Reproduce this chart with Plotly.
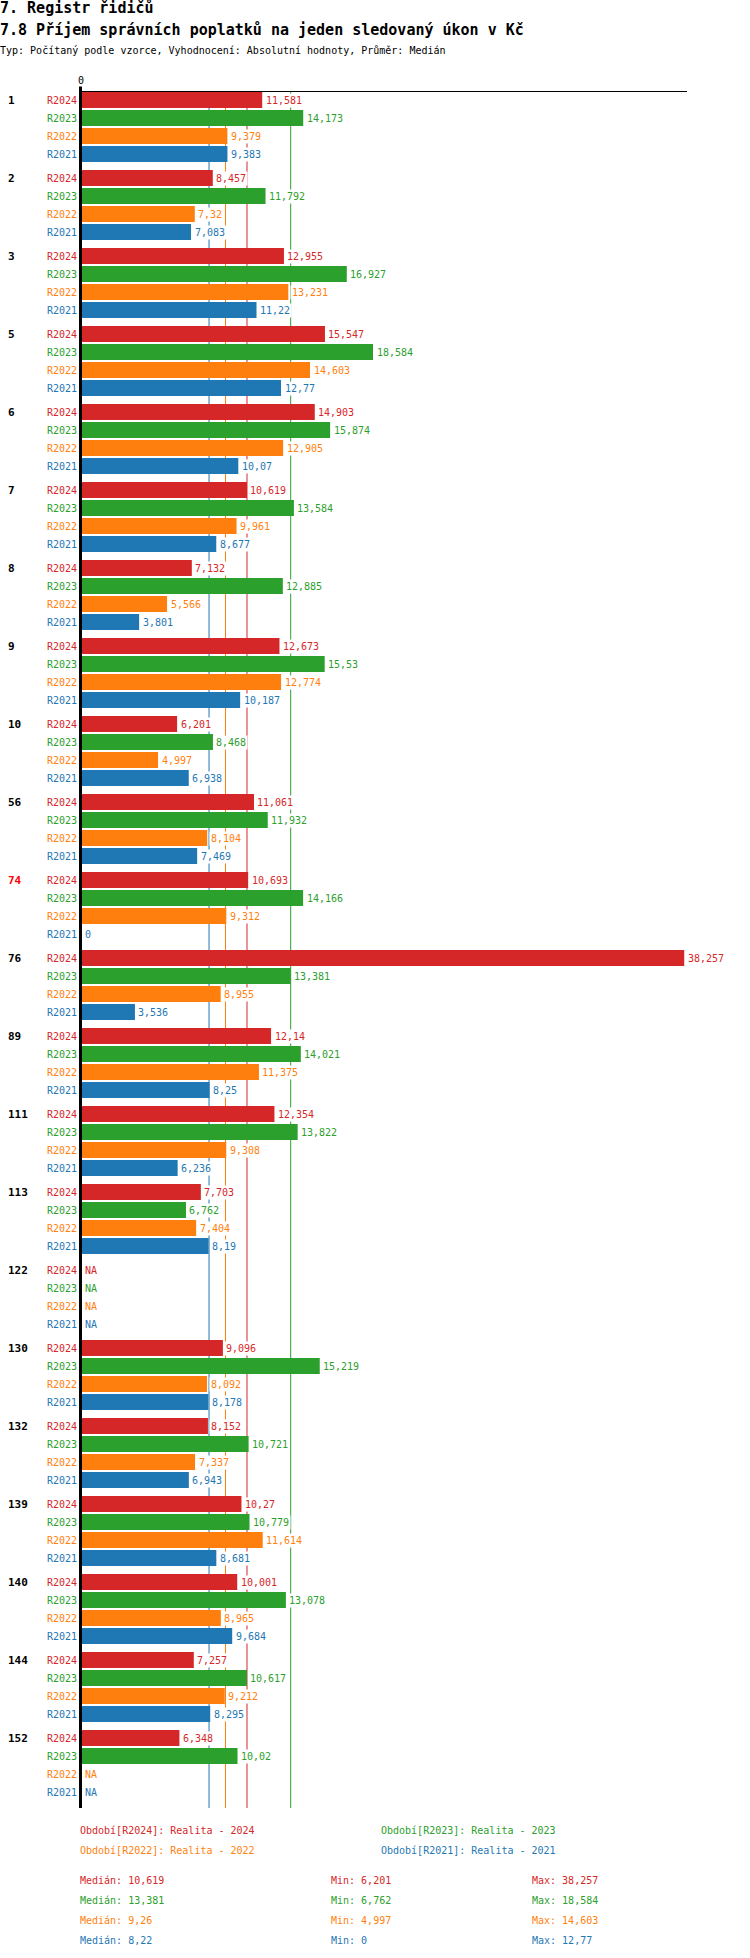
import plotly.graph_objects as go
import numpy as np

# --- data ---------------------------------------------------------------
urady = ["1", "2", "3", "5", "6", "7", "8", "9", "10", "56", "74", "76",
         "89", "111", "113", "122", "130", "132", "139", "140", "144", "152"]
zvyrazneny = "74"

obdobi = ["R2024", "R2023", "R2022", "R2021"]
popisy = ["Realita - 2024", "Realita - 2023", "Realita - 2022", "Realita - 2021"]
barvy = ["#d62728", "#2ca02c", "#ff7f0e", "#1f77b4"]

r2024 = [11.581, 8.457, 12.955, 15.547, 14.903, 10.619, 7.132, 12.673, 6.201, 11.061, 10.693,
         38.257, 12.14, 12.354, 7.703, None, 9.096, 8.152, 10.27, 10.001, 7.257, 6.348]
r2023 = [14.173, 11.792, 16.927, 18.584, 15.874, 13.584, 12.885, 15.53, 8.468, 11.932, 14.166,
         13.381, 14.021, 13.822, 6.762, None, 15.219, 10.721, 10.779, 13.078, 10.617, 10.02]
r2022 = [9.379, 7.32, 13.231, 14.603, 12.905, 9.961, 5.566, 12.774, 4.997, 8.104, 9.312,
         8.955, 11.375, 9.308, 7.404, None, 8.092, 7.337, 11.614, 8.965, 9.212, None]
r2021 = [9.383, 7.083, 11.22, 12.77, 10.07, 8.677, 3.801, 10.187, 6.938, 7.469, 0,
         3.536, 8.25, 6.236, 8.19, None, 8.178, 6.943, 8.681, 9.684, 8.295, None]
serie = [r2024, r2023, r2022, r2021]

# --- helpers ------------------------------------------------------------
W, H = 750, 1958
FONT = "DejaVu Sans Mono"
GROUP = 78 / 18          # group step in bar slots
BAR = 16 / 18
X0, X1 = 79, 687         # plot area in page pixels
XMAX = (X1 - X0) / 15.82


def px(x):
    return x / W


def py(y):
    return 1 - y / H


def cz(v):
    s = f"{v:.3f}".rstrip("0").rstrip(".")
    return s.replace(".", ",")


fig = go.Figure()
ann = []

for j, (name, vals, col) in enumerate(zip(obdobi, serie, barvy)):
    pos = [g * GROUP + j for g in range(len(urady))]
    fig.add_trace(go.Bar(
        orientation="h", x=vals, y=pos, width=BAR, name=name,
        marker=dict(color=col, line=dict(width=0)), hoverinfo="skip"))
    for p, v in zip(pos, vals):
        ann.append(dict(x=0 if v is None else v, y=p, xref="x", yref="y",
                        text="NA" if v is None else cz(v), xanchor="left", yanchor="middle",
                        xshift=3.5 if not v else 1.5, showarrow=False, bgcolor="white",
                        font=dict(family=FONT, size=10, color=col)))
        ann.append(dict(x=px(79), y=p, xref="paper", yref="y", text=name,
                        xanchor="right", yanchor="middle", showarrow=False,
                        font=dict(family=FONT, size=10, color=col)))

    arr = np.array([np.nan if v is None else v for v in vals], dtype=float)
    fig.add_shape(type="line", xref="x", yref="y domain", x0=np.nanmedian(arr), x1=np.nanmedian(arr),
                  y0=0, y1=1, line=dict(color=col, width=1), layer="below")

# y axis line (drawn over the bar bases) and its little tick above the x axis
fig.add_shape(type="line", xref="x", xsizemode="pixel", xanchor=0, x0=1.5, x1=1.5,
              yref="paper", y0=py(1808), y1=py(86.5), line=dict(color="black", width=3))
ann.append(dict(x=px(81), y=py(80.5), xref="paper", yref="paper", text="0", xanchor="center",
                yanchor="middle", showarrow=False, font=dict(family=FONT, size=10, color="black")))

for g, u in enumerate(urady):
    ann.append(dict(x=px(6), y=g * GROUP, xref="paper", yref="y", text="<b>" + u + "</b>",
                    xanchor="left", yanchor="middle", showarrow=False,
                    font=dict(family=FONT, size=11, color="#ff0000" if u == zvyrazneny else "black")))

# titles
for txt, y, size in [("<b>7. Registr řidičů</b>", 8.3, 15),
                     ("<b>7.8 Příjem správních poplatků na jeden sledovaný úkon v Kč</b>", 30, 15),
                     ("Typ: Počítaný podle vzorce, Vyhodnocení: Absolutní hodnoty, Průměr: Medián", 50.5, 10)]:
    ann.append(dict(x=px(-2), y=py(y), xref="paper", yref="paper", text=txt, xanchor="left",
                    yanchor="middle", showarrow=False, font=dict(family=FONT, size=size, color="black")))

# legend + stats
leg_xy = [(78, 1830), (379, 1830), (78, 1850), (379, 1850)]
for j, (name, pop, col) in enumerate(zip(obdobi, popisy, barvy)):
    lx, ly = leg_xy[j]
    ann.append(dict(x=px(lx), y=py(ly), xref="paper", yref="paper",
                    text=f"Období[{name}]: {pop}", xanchor="left", yanchor="middle",
                    showarrow=False, font=dict(family=FONT, size=10, color=col)))
    arr = np.array([np.nan if v is None else v for v in serie[j]], dtype=float)
    sy = 1880 + 20 * j
    for sx, lab, val in [(78, "Medián", np.nanmedian(arr)), (329, "Min", np.nanmin(arr)),
                         (530, "Max", np.nanmax(arr))]:
        ann.append(dict(x=px(sx), y=py(sy), xref="paper", yref="paper",
                        text=f"{lab}: {cz(val)}", xanchor="left", yanchor="middle",
                        showarrow=False, font=dict(family=FONT, size=10, color=col)))

n = len(urady)
fig.update_layout(
    width=W, height=H, margin=dict(l=0, r=0, t=0, b=0),
    plot_bgcolor="white", paper_bgcolor="white", showlegend=False,
    barmode="overlay", annotations=ann,
    xaxis=dict(domain=[px(X0), px(X1)], range=[0, XMAX], side="top",
               showline=True, linecolor="black", linewidth=1, ticks="",
               showticklabels=False, showgrid=False, zeroline=False),
    yaxis=dict(domain=[py(1808), py(91.5)], range=[(n - 1) * GROUP + 3 + 16 / 18, -8.5 / 18],
               showline=False, showticklabels=False,
               showgrid=False, zeroline=False, ticks=""),
)

# drop the default page margin so the figure sits at the window's top-left corner
fig.write_html("out.html", config={"displayModeBar": False},
               post_script="document.body.style.margin='0';")
